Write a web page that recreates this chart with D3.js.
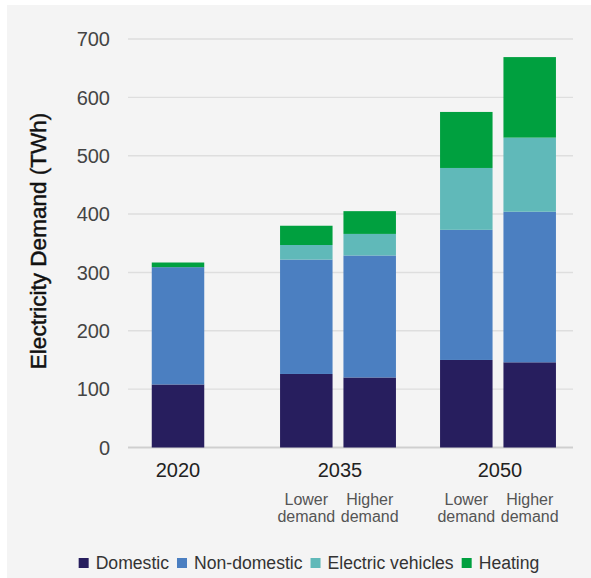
<!DOCTYPE html>
<html>
<head>
<meta charset="utf-8">
<script src="https://cdn.jsdelivr.net/npm/d3@7"></script>
<style>
  body { margin: 0; background: #fff; }
  text { font-family: "Liberation Sans", Arial, sans-serif; }
</style>
</head>
<body>
<svg id="chart"></svg>
<script>
// bars: year group + scenario
const years = ['2020', '2035', '2050'];
const scenarios = ['Lower demand', 'Higher demand'];
const bars = [
  { year: '2020', scenario: null },
  { year: '2035', scenario: 'Lower demand' },
  { year: '2035', scenario: 'Higher demand' },
  { year: '2050', scenario: 'Lower demand' },
  { year: '2050', scenario: 'Higher demand' }
];
const sectors = ['Domestic', 'Non-domestic', 'Electric vehicles', 'Heating'];
const domestic = [108, 126, 120, 150, 146];
const nonDomestic = [201, 196, 209, 223, 258];
const electricVehicles = [0, 25, 37, 106, 127];
const heating = [8, 33, 39, 96, 138];
const yTicks = [0, 100, 200, 300, 400, 500, 600, 700];
const yTitle = 'Electricity Demand (TWh)';

const colors = ['#271e5e', '#4b7fc1', '#60b9b9', '#00a03f'];

const width = 591;
const height = 578;

const svg = d3.select('#chart')
  .attr('width', width)
  .attr('height', height);

svg.append('rect')
  .attr('x', 7).attr('y', 5)
  .attr('width', width - 7).attr('height', height - 5)
  .attr('fill', '#f4f4f4');

const table = bars.map((b, i) => ({
  ...b,
  Domestic: domestic[i],
  'Non-domestic': nonDomestic[i],
  'Electric vehicles': electricVehicles[i],
  Heating: heating[i]
}));

const stacked = d3.stack().keys(sectors)(table);

const y = d3.scaleLinear()
  .domain([0, 700])
  .range([447.5, 39]);

const x0 = d3.scaleBand()
  .domain(years)
  .range([98, 578]);

const barW = 52.5;
const subStep = 63.4;
const x1 = d3.scaleBand()
  .domain(scenarios)
  .range([-subStep, subStep])
  .paddingInner(1 - barW / subStep)
  .paddingOuter((1 - barW / subStep) / 2);

function barX(d) {
  const c = x0(d.year) + x0.bandwidth() / 2;
  if (d.scenario === null) return c - barW / 2;
  return c + x1(d.scenario);
}

// gridlines
svg.append('g')
  .selectAll('line')
  .data(yTicks)
  .join('line')
    .attr('x1', 128)
    .attr('x2', 573)
    .attr('y1', d => y(d))
    .attr('y2', d => y(d))
    .attr('stroke', d => d === 0 ? '#cfcfcf' : '#dedede')
    .attr('stroke-width', d => d === 0 ? 2 : 1.4);

// y tick labels
svg.append('g')
  .selectAll('text')
  .data(yTicks)
  .join('text')
    .attr('x', 110)
    .attr('y', d => y(d))
    .attr('dy', '0.36em')
    .attr('text-anchor', 'end')
    .attr('font-size', '20px')
    .attr('fill', '#444')
    .text(d => d);

svg.append('text')
  .attr('transform', 'translate(46,241) rotate(-90)')
  .attr('text-anchor', 'middle')
  .attr('font-size', '22.5px')
  .attr('fill', '#111')
  .attr('stroke', '#111')
  .attr('stroke-width', 0.45)
  .text(yTitle);

// stacked bars
svg.append('g')
  .selectAll('g')
  .data(stacked)
  .join('g')
    .attr('fill', (d, i) => colors[i])
  .selectAll('rect')
  .data(d => d)
  .join('rect')
    .attr('x', d => barX(d.data))
    .attr('width', barW)
    .attr('y', d => y(d[1]))
    .attr('height', d => y(d[0]) - y(d[1]));

// x labels
svg.append('g')
  .selectAll('text')
  .data(years)
  .join('text')
    .attr('x', d => x0(d) + x0.bandwidth() / 2 + (d === '2020' ? 0 : 2))
    .attr('y', 477)
    .attr('text-anchor', 'middle')
    .attr('font-size', '20px')
    .attr('fill', '#222')
    .text(d => d);

const subLabels = svg.append('g')
  .selectAll('text')
  .data(bars.filter(b => b.scenario !== null))
  .join('text')
    .attr('x', d => barX(d) + barW / 2)
    .attr('y', 505)
    .attr('text-anchor', 'middle')
    .attr('font-size', '16px')
    .attr('fill', '#555');

subLabels.append('tspan')
  .attr('x', d => barX(d) + barW / 2)
  .text(d => d.scenario.split(' ')[0]);
subLabels.append('tspan')
  .attr('x', d => barX(d) + barW / 2)
  .attr('dy', 17)
  .text(d => d.scenario.split(' ')[1]);

// legend
const legend = svg.append('g');
const items = legend.selectAll('g')
  .data(sectors)
  .join('g');

items.append('rect')
  .attr('y', 558)
  .attr('width', 10)
  .attr('height', 10)
  .attr('fill', (d, i) => colors[i]);

items.append('text')
  .attr('x', 17)
  .attr('y', 569)
  .attr('font-size', '17.6px')
  .attr('fill', '#333')
  .text(d => d);

let lx = 0;
items.each(function () {
  const w = d3.select(this).select('text').node().getComputedTextLength();
  d3.select(this).attr('transform', `translate(${lx},0)`);
  lx += 17 + w + 8;
});
const legendW = lx - 8;
legend.attr('transform', `translate(${309 - legendW / 2},0)`);
</script>
</body>
</html>
